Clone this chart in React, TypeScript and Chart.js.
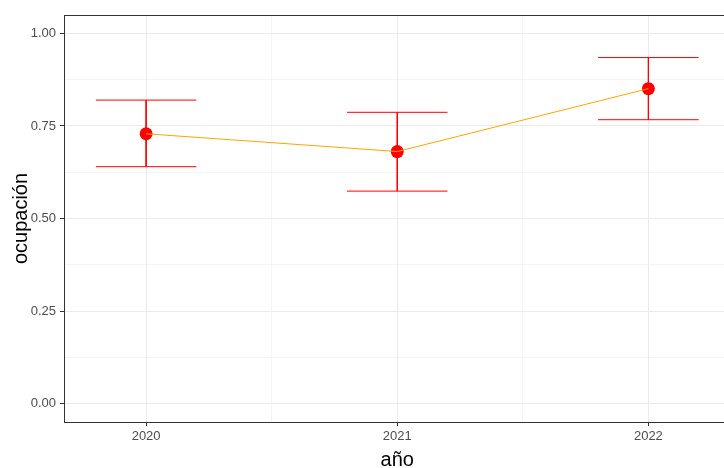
import React, { useEffect, useRef } from "react";
import { Chart, registerables } from "chart.js";

Chart.register(...registerables);

const years = [2020, 2021, 2022];
const ocupacion = [0.729, 0.681, 0.851];
const lower = [0.64, 0.574, 0.767];
const upper = [0.82, 0.787, 0.935];
const yTicks = [0, 0.125, 0.25, 0.375, 0.5, 0.625, 0.75, 0.875, 1];
const xTicks = [2020, 2020.5, 2021, 2021.5, 2022];
const capHalf = 0.2;

const FONT = "'Liberation Sans', Arial, sans-serif";

const isMajorY = (v: number) => Math.abs(v * 4 - Math.round(v * 4)) < 1e-6;
const isMajorX = (v: number) => Math.abs(v - Math.round(v)) < 1e-6;

const borderPlugin = {
  id: "panelBorder",
  afterDraw(chart: any) {
    const { ctx, chartArea } = chart;
    ctx.save();
    ctx.strokeStyle = "#333333";
    ctx.lineWidth = 1;
    ctx.strokeRect(
      Math.round(chartArea.left) + 0.5,
      Math.round(chartArea.top) + 0.5,
      chartArea.right - chartArea.left,
      chartArea.bottom - chartArea.top
    );
    ctx.restore();
  },
};

export default function App() {
  const ref = useRef<HTMLCanvasElement | null>(null);

  useEffect(() => {
    if (!ref.current) return;
    const errData: any[] = [];
    years.forEach((x, i) => {
      errData.push({ x: x - capHalf, y: upper[i] });
      errData.push({ x: x + capHalf, y: upper[i] });
      errData.push({ x: x, y: null });
      errData.push({ x: x, y: upper[i] });
      errData.push({ x: x, y: lower[i] });
      errData.push({ x: x, y: null });
      errData.push({ x: x - capHalf, y: lower[i] });
      errData.push({ x: x + capHalf, y: lower[i] });
      errData.push({ x: x + capHalf, y: null });
    });
    const pts = years.map((x, i) => ({ x, y: ocupacion[i] }));

    const chart = new Chart(ref.current, {
      type: "line",
      data: {
        datasets: [
          {
            data: pts,
            borderColor: "#FFA500",
            borderWidth: 1,
            pointRadius: 0,
            fill: false,
            tension: 0,
            order: 0,
          },
          {
            data: pts,
            showLine: false,
            pointRadius: 6.5,
            pointBackgroundColor: "#FF0000",
            pointBorderWidth: 0,
            pointBorderColor: "#FF0000",
            order: 1,
          },
          {
            data: errData,
            borderColor: "#FF0000",
            borderWidth: 1,
            pointRadius: 0,
            spanGaps: false,
            fill: false,
            tension: 0,
            order: 2,
          },
        ] as any,
      },
      options: {
        animation: false,
        responsive: false,
        maintainAspectRatio: false,
        events: [],
        layout: { padding: { left: 0, right: 2, top: 15, bottom: 0 } },
        plugins: { legend: { display: false }, tooltip: { enabled: false } },
        scales: {
          x: {
            type: "linear",
            min: 2019.673,
            max: 2022.327,
            afterBuildTicks: (s: any) => {
              s.ticks = xTicks.map((v) => ({ value: v }));
            },
            afterFit: (s: any) => {
              s.height = 46;
              s.paddingLeft = 0;
              s.paddingRight = 0;
            },
            border: { display: false },
            grid: {
              color: "#EBEBEB",
              lineWidth: (c: any) => (isMajorX(c.tick.value) ? 1 : 0.5),
              tickColor: (c: any) => (isMajorX(c.tick.value) ? "#333333" : "rgba(0,0,0,0)"),
              tickLength: 4,
              tickWidth: 1,
            },
            ticks: {
              padding: 3,
              maxRotation: 0,
              autoSkip: false,
              color: "#4D4D4D",
              font: { family: FONT, size: 13 },
              callback: (v: any) => (isMajorX(Number(v)) ? String(Math.round(Number(v))) : ""),
            },
            title: {
              display: true,
              text: "año",
              color: "#000000",
              font: { family: FONT, size: 20, lineHeight: 0.8 },
              padding: { top: 0, bottom: 0 },
            },
          },
          y: {
            type: "linear",
            min: -0.05,
            max: 1.05,
            afterBuildTicks: (s: any) => {
              s.ticks = yTicks.map((v) => ({ value: v }));
            },
            afterFit: (s: any) => {
              s.width = 64;
              s.paddingTop = 0;
              s.paddingBottom = 0;
            },
            border: { display: false },
            grid: {
              color: "#EBEBEB",
              lineWidth: (c: any) => (isMajorY(c.tick.value) ? 1 : 0.5),
              tickColor: (c: any) => (isMajorY(c.tick.value) ? "#333333" : "rgba(0,0,0,0)"),
              tickLength: 4,
              tickWidth: 1,
            },
            ticks: {
              padding: 4,
              autoSkip: false,
              color: "#4D4D4D",
              font: { family: FONT, size: 13 },
              callback: (v: any) => (isMajorY(Number(v)) ? Number(v).toFixed(2) : ""),
            },
            title: {
              display: true,
              text: "ocupación",
              color: "#000000",
              font: { family: FONT, size: 20 },
              padding: { top: 9, bottom: 0 },
            },
          },
        },
      },
      plugins: [borderPlugin],
    } as any);
    return () => chart.destroy();
  }, []);

  return (
    <div
      style={{
        position: "absolute",
        left: 0,
        top: 0,
        width: 724,
        height: 468,
        overflow: "hidden",
        background: "#ffffff",
      }}
    >
      <canvas ref={ref} width={737} height={468} style={{ display: "block" }} />
    </div>
  );
}
